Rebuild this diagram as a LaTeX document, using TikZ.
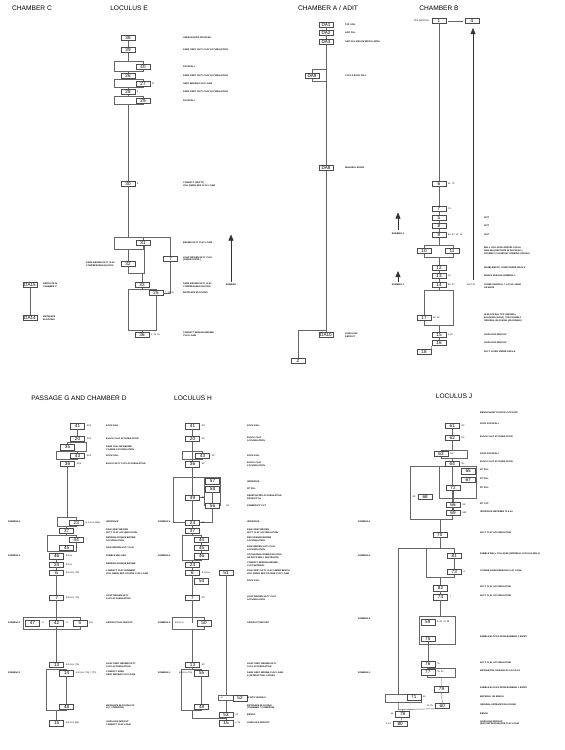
\documentclass[tikz,border=0pt]{standalone}
\usepackage{fontspec}
\setmainfont{Liberation Sans}
\usetikzlibrary{arrows.meta}

\tikzset{
  unit/.style={draw=black!70, fill=white, line width=0.45pt, minimum width=14pt,
    minimum height=5.4pt, inner sep=0pt, font=\fontsize{4.6}{5}\selectfont},
  desc/.style={anchor=west, inner sep=0pt, align=left, font=\bfseries\fontsize{2.2}{2.6}\selectfont},
  note/.style={anchor=west, inner sep=0pt, font=\fontsize{2.2}{2.5}\selectfont},
  head/.style={inner sep=0pt, font=\fontsize{6.6}{7}\selectfont},
  link/.style={draw=black!60, line width=0.45pt},
  robnote/.style={inner sep=0pt, font=\bfseries\fontsize{2.2}{2.5}\selectfont},
  robarrow/.style={-{Triangle[width=5pt,length=6pt]}, line width=0.5pt, black!80}
}

\begin{document}
\begin{tikzpicture}[x=1pt,y=-1pt]
    \useasboundingbox (0,0) rectangle (565,750);

    % Headings
    \node[head] (hC) at (32,8) {CHAMBER C};
    \node[head] (hE) at (129,8) {LOCULUS E};
    \node[head] (hA) at (328,8) {CHAMBER A / ADIT};
    \node[head] (hB) at (439,8) {CHAMBER B};
    \node[head] (hG) at (79,398) {PASSAGE G AND CHAMBER D};
    \node[head] (hH) at (193,398) {LOCULUS H};
    \node[head] (hJ) at (454,396) {LOCULUS J};

    %% ---------------- Loculus E ----------------
    \draw[link] (114,61) rectangle (143,71);
    \draw[link] (114,79) rectangle (143,87);
    \draw[link] (114,96) rectangle (143,104);
    \draw[link] (114,237) rectangle (143,249);
    \draw[link] (143,237) -- (170.7,237);
    \draw[link] (128,249) -- (128,273) -- (144,273) -- (144,245);
    \draw[link] (128.3,289) rectangle (156.7,330);
    \foreach \n/\x/\y in {38/128/38, 39/128/50, 40/143/67, 26/128/76,
        27/143/84, 28/128/92, 29/143/101, 30/128/184, 31/143/243,
        32/128/264, 7/170.7/259, 33/142/285, 25/156/293, 36/142/335}
        \node[unit] (e\n) at (\x,\y) {\n};
    \draw[link] (e38) -- (e39);
    \draw[link] (e39) -- (e39 |- 0,61);
    \draw[link] (e26 |- 0,71) -- (e26) -- (e26 |- 0,79);
    \draw[link] (e28 |- 0,87) -- (e28) -- (e28 |- 0,96);
    \draw[link] (e30 |- 0,104) -- (e30) -- (e30 |- 0,237);
    \draw[link] (e7 |- 0,237) -- (e7) -- (e7 |- e25) -- (e25);
    \draw[link] (e33 |- 0,273) -- (e33) -- (e33 |- 0,289);
    \draw[link] (e36 |- 0,330) -- (e36);
    \node[note] at (152,84) {57};
    \node[note] at (137,92) {5};
    \node[note] at (137,184) {6};
    \node[note] at (165,293) {7, 12, 36};
    \node[note] at (151,335) {2, 15, 16};
    \foreach \y/\t in {38/UNEXCAVATED ROCKFALL, 50/DARK GREY SILTY CLAY ACCUMULATION,
        67/ROCKFALL, 76/DARK GREY SILTY CLAY ACCUMULATION, 84/GREY BROWN CLAY LOAM,
        92/DARK GREY SILTY CLAY ACCUMULATION, 101/ROCKFALL,
        184/{COMPACT (GRITTY)\\YELLOWISH RED CLAY LOAM}, 243/BROWN SILTY CLAY LOAM,
        259/{LIGHT BROWN SILTY CLAY\\(UNDER LINTEL)},
        285/{DARK BROWN SILTY CLAY\\COMPRESSIBLE BLOCKS}, 293/ENTRANCE BLOCKING,
        334/{COMPACT REDDISH BROWN\\CLAY LOAM}}
        \node[desc] at (183,\y) {\t};
    \node[desc, anchor=east, align=left] (l32) at (115,264)
        {DARK BROWN SILTY CLAY\\COMPRESSIBLE BLOCKS};
    \draw[robarrow] (231,282) -- (231,234.5);
    \node[robnote] (robE) at (231,285) {ROBBING};

    %% ---------------- Chamber C ----------------
    \node[unit] (dc15) at (30,285) {DA15};
    \node[unit] (dc14) at (30,318) {DA14};
    \draw[link] (dc15) -- (dc14);
    \node[desc] at (43,285) {DEPOSITS IN\\CHAMBER C};
    \node[desc] at (43,318) {ENTRANCE\\BLOCKING};

    %% ---------------- Chamber A / Adit ----------------
    \draw[link] (312,69) rectangle (326,81);
    \foreach \n/\y in {1/25, 2/33, 3/42, 8/168, 10/335}
        \node[unit] (da\n) at (326,\y) {DA\n};
    \node[unit] (da9) at (312,76) {DA9};
    \node[unit] (a2) at (298,361) {2};
    \draw[link] (da1) -- (da2);
    \draw[link] (da2) -- (da3);
    \draw[link] (da3) -- (da8);
    \draw[link] (da8) -- (da8 |- 0,330) -- (a2 |- 0,330) -- (a2);
    \draw[link] (da8 |- 0,330) -- (da10);
    \foreach \y/\t in {25/TOP SOIL, 33/ADIT FILL, 42/ADIT FILL BELOW BRICK LINTEL,
        76/CLAY \& ROCK FALL, 168/WASHED LAYERS, 335/{LEVELLING\\DEPOSIT}}
        \node[desc] at (345,\y) {\t};

    %% ---------------- Chamber B ----------------
    \draw[link] (424,245) rectangle (453,257);
    \draw[link] (424,290) rectangle (453,325);
    \foreach \n/\x/\y in {1/439/21, 4/472/21, 6/439/184, 7/439/209, 5/439/218,
        8/439/226, 9/439/235, 10/424/251, 11/452/251, 12/439/268, 13/439/276,
        14/439/285, 17/424/318, 15/439/335, 16/439/343, 18/424/352}
        \node[unit] (b\n) at (\x,\y) {\n};
    \draw[link, shorten <=2pt, shorten >=2pt] (b1) -- (b4);
    \draw[link] (b1) -- (b6);
    \draw[link] (b6) -- (b7);
    \draw[link] (b7) -- (b5);
    \draw[link] (b5) -- (b8);
    \draw[link] (b8) -- (b9);
    \draw[link] (b9) -- (b9 |- 0,245);
    \draw[link] (b12 |- 0,257) -- (b12);
    \draw[link] (b12) -- (b13);
    \draw[link] (b13) -- (b14);
    \draw[link] (b14) -- (b14 |- 0,290);
    \draw[link] (b15 |- 0,325) -- (b15);
    \draw[link] (b15) -- (b16);
    \draw[link] (b16.south west) -- (b18.north east);
    \draw[robarrow] (473,280) -- (473,28);
    \node[note] at (467,285) {SS (TS)};
    \node[note, anchor=east] at (429,21) {RF4 (MORTIS)};
    \node[note] at (448,184) {6L, 7S};
    \node[note] at (448,209) {7A};
    \node[note] at (448,235) {8C, 8?, 10, 18};
    \node[note] at (448,276) {7A};
    \node[note] at (448,285) {8C, 9?};
    \node[note] at (433,318) {8C, 20};
    \node[note] at (448,335) {2,16};
    \draw[robarrow] (398,230) -- (398,212.5);
    \node[robnote] (robB2) at (398,234) {ROBBING 2};
    \draw[robarrow] (398,282) -- (398,271);
    \node[robnote] (robB1) at (398,285) {ROBBING 1};
    \foreach \y/\t in {218/SPIT, 226/SPIT, 235/SPIT,
        251/{WALL COLLAPSE AND/OR LOCULI\\SEALING (DEPOSITS IN ROCKFALL)\\POSSIBLY CAUSED BY ROBBING (CROSS)},
        268/PROBLEMATIC LAYER UNDER ARCH 2, 276/MARKS SEALING ROBBING 1,
        286/{SCREE GRAVELS, ? LOCULI HEAD\\ON BASE},
        318/{IN BLOCKING, ?PIT ORIGINAL\\BLOCKING (8A/10), ?OR POSSIBLY\\ORIGINAL BLOCKING (ADJOINING)},
        335/LEVELLING DEPOSIT, 343/LEVELLING DEPOSIT, 352/SILTY LAYER UNDER ARCH 8}
        \node[desc] at (484,\y) {\t};

    %% ---------------- Passage G and Chamber D ----------------
    \draw[link] (67.5,442.3) rectangle (86,451.7);
    \draw[link] (56,451.7) rectangle (77.5,459.5);
    \draw[link] (57.3,517.7) rectangle (76.3,526.7);
    \draw[link] (47.3,535) rectangle (76.3,551);
    \draw[link] (23.3,617.3) rectangle (80.7,629);
    \draw[link] (46.7,669) rectangle (66.7,710.7);
    \foreach \n/\x/\y in {41/77.5/426.2, 20/77.5/439, 35/67.5/447.2, 43/77.5/455.8,
        36/67.5/463.5, 23/76.3/522.5, 37/66.7/531, 44/76.3/539.5, 45/66.7/548,
        46/56.7/556.2, 24/56.7/564.5, 6/56.7/572.5, 7/56.7/597.5, 47/32.5/623.2,
        42/56.7/623.2, 5/80/623.2, 13/56.7/665, 14/66.7/673.2, 48/66.7/706.5,
        15/56.7/723.2}
        \node[unit] (g\n) at (\x,\y) {\n};
    \draw[link] (g41) -- (g20);
    \draw[link] (g20) -- (g20 |- 0,442.3);
    \draw[link] (g36) -- (g36 |- 0,517.7);
    \draw[link] (g37 |- 0,526.7) -- (g37) -- (g37 |- 0,535);
    \draw[link] (g46) -- (g24);
    \draw[link] (g24) -- (g6);
    \draw[link] (g6) -- (g7);
    \draw[link] (g7) -- (g42);
    \draw[link] (g42) -- (g13);
    \draw[link] (g14) -- (g48);
    \draw[link] (g15 |- 0,710.7) -- (g15);
    \foreach \n/\t in {41/RF3, 20/RF4, 43/RF4, 36/RF4, 23/{B,D,G,H (RF3)}, 44/7, 45/8,
        46/{B,G,H}, 24/{B,D,H}, 6/{B,D,G,H (TS)}, 7/{B,D,G,H (TS)}, 47/H, 42/H, 5/{B,D},
        13/{B,D,G,H (TS)}, 14/{B,D,G,H (TS), 7 (T2)}, 15/{B,D,G,H (B2)}}
        \node[note] at ([xshift=2pt]g\n.east) {\t};
    \foreach \y/\t in {426/ROCK FALL, 439/BLACK CLAY ACCUMULATION,
        448/{DARK YELLOW BROWN\\COARSE ACCUMULATION}, 456/ROCK FALL,
        464/BLACK SILTY CLAY ACCUMULATION, 522/INTERFACE,
        531/{PALE GREY BROWN\\SILTY CLAY ACCUMULATION},
        539.5/{REDDISH ORANGE BROWN\\ACCUMULATION}, 548/PALE BROWN SILTY CLAY,
        556/RUBBLE WALLING, 564/REDDISH ORANGE BROWN,
        572/{COMPACT CLAY SEDIMENT\\YELLOWISH RED COARSE CLAY LOAM},
        597/{LIGHT BROWN SILTY\\CLAY ACCUMULATION}, 623/ARTEFACTUAL DEPOSIT,
        665/{LIGHT GREY BROWN SILTY\\CLAY ACCUMULATION},
        673/{COMPACT DARK\\GREY BROWN CLAY LOAM},
        707/{ENTRANCE BLOCKING OF\\H (? CORRIDOR)},
        723/{LEVELLING DEPOSIT\\COMPACT CLAY LOAM}}
        \node[desc] at (106,\y) {\t};
    \foreach \y/\r in {522/4, 556/3, 623/2, 673/1}
        \node[robnote, anchor=west] at (8,\y) {ROBBING \r};

    %% ---------------- Loculus H ----------------
    \draw[link] (182.7,451) rectangle (202.5,459);
    \draw[link] (185,522.5) -- (173.3,522.5) -- (173.3,477.7) -- (220,477.7) -- (220,505.8);
    \draw[link] (204,477.7) -- (204,505.8);
    \draw[link] (182,535) rectangle (201.7,560);
    \draw[link] (172.7,617.3) rectangle (204,629);
    \draw[link] (181.7,669) rectangle (201.7,710.7);
    \draw[link] (218.7,695.7) rectangle (240,700.7);
    \foreach \n/\x/\y in {41/192.5/426.2, 20/192.5/439, 43/202.5/455.8, 36/192.5/464.2,
        57/212.5/481.2, 58/212.5/489.2, 49/192.5/497.5, 56/212.5/505.8, 23/192.5/522.5,
        37/192.5/531, 44/201.7/539.5, 45/201.7/548, 46/201.7/556.2, 24/192.5/564.5,
        6/192.5/572.5, 51/226/572.5, 54/201.7/581.2, 7/192.5/597.5, 50/204/623.2,
        13/192.5/665, 55/201.7/673.2, 52/240/698.2, 48/201.7/706.5, 53/226/715,
        15/226/723.2}
        \node[unit] (h\n) at (\x,\y) {\n};
    \draw[link] (h41) -- (h20);
    \draw[link] (h20) -- (h36);
    \draw[link] (h36) -- (h49);
    \draw[link] (h49) -- (h23);
    \draw[link] (h49) -- (h49 -| 204,0);
    \draw[link] (h58) -- (h56);
    \draw[link] (h56) -- (h56 |- h23) -- (h23);
    \draw[link] (h23) -- (h37);
    \draw[link] (h37) -- (h37 |- 0,535);
    \draw[link] (h24 |- 0,560) -- (h24) -- (h6);
    \draw[link] (h6) -- (h7);
    \draw[link] (h51) -- (h51 |- 0,695.7);
    \draw[link] (h51 |- 0,700.7) -- (h53);
    \draw[link] (h7) -- (h50 -| h7);
    \draw[link] (h13 |- 0,629) -- (h13) -- (h13 |- 0,669);
    \draw[link] (h55) -- (h48);
    \draw[link] (h13 |- 0,710.7) -- (h13 |- 0,718) -- (h53 |- 0,718);
    \draw[link] (h53) -- (h15);
    \foreach \n/\t in {41/RF, 20/RF, 43/RF, 36/RF, 49/RF, 23/RF, 6/{B,D,G,H}, 7/RF,
        13/RF, 53/7A, 15/{2, 16}}
        \node[note] at ([xshift=2pt]h\n.east) {\t};
    \node[note] at (226,506) {RF};
    \node[note] at (175,623.2) {B,D,G,H};
    \node[note, anchor=east] at ([xshift=-2pt]h55.west) {B,D,G,H (TS)};
    \node[note] at (221,698.2) {H};
    \foreach \y/\t in {426/ROCK FALL, 439/{BLACK CLAY\\ACCUMULATION}, 456/ROCK FALL,
        464/{BLACK CLAY\\ACCUMULATION}, 482/INTERFACE, 489/PIT FILL,
        497/{REDEPOSITED ACCUMULATION\\FROM PIT 56}, 506/ROBBER PIT CUT,
        522/INTERFACE, 531/{PALE GREY BROWN\\SILTY CLAY ACCUMULATION},
        539/{RED ORANGE BROWN\\ACCUMULATION}, 548/{PALE BROWN SILTY CLAY\\ACCUMULATION},
        556/{OCCASIONAL RUBBLE BLOCKS\\ON ROCK WALL DESTROYED},
        564/{COMPACT REDDISH BROWN\\CLAY MATERIAL},
        572/{PALE GREY SILTY CLAY UNDER BENCH\\YELLOWISH RED COARSE CLAY LOAM},
        581/ROCK FALL, 598/{LIGHT BROWN SILTY CLAY\\ACCUMULATION},
        623/ARTEFACT DEPOSIT, 665/{LIGHT GREY BROWN SILTY\\CLAY ACCUMULATION},
        674/{DARK GREY BROWN CLAY LOAM\\\& ARTEFACTUAL LAYERS}, 698/IN SITU VESSELS,
        707/{ENTRANCE BLOCKING\\(CHAMBER ? CORRIDOR)}, 715/BENCH, 723/LEVELLING DEPOSIT}
        \node[desc] at (247,\y) {\t};
    \foreach \y/\r in {522/4, 556/3, 623/2, 673/1}
        \node[robnote, anchor=west] at (158,\y) {ROBBING \r};
    \foreach \y/\r in {522/4, 556/3, 619/2, 673/1}
        \node[robnote, anchor=west] at (358,\y) {ROBBING \r};

    %% ---------------- Loculus J ----------------
    \draw[link] (441,450) rectangle (467.7,458);
    \draw[link] (410.3,466.7) rectangle (452.7,519.3);
    \draw[link] (439.3,466.7) rectangle (476.7,498);
    \draw[link] (426,548.7) rectangle (454.3,577.3);
    \draw[link] (419.3,616.3) rectangle (455.3,644.7);
    \draw[link] (427.7,668) rectangle (455.3,677.3);
    \draw[link] (385.3,694) rectangle (421,702.3);
    \draw[link] (426,548.7) -- (398.3,548.7) -- (398.3,694);
    \foreach \n/\x/\y in {61/452.3/425.5, 62/452.3/437.8, 63/441/454, 64/452.3/463.5,
        65/468.2/471.2, 67/468.2/479.5, 72/453/488, 68/425.2/496.8, 66/453/504.5,
        69/453/512.5, 70/439.8/534.5, 81/454.3/555.8, 73/454.3/571.5, 82/440.5/588.2,
        74/440.5/597.2, 59/427.8/622.2, 75/427.8/639, 76/427.8/664.2, 77/427.8/672.2,
        79/441.5/689.2, 71/413.8/697.2, 60/442.3/705.8, 78/402.7/714.2, 80/400.2/723.5}
        \node[unit] (j\n) at (\x,\y) {\n};
    \draw[link] (j61) -- (j62);
    \draw[link] (j62) -- (j62 |- 0,450);
    \draw[link] (j64 |- 0,458) -- (j64);
    \draw[link] (j72) -- (j66);
    \draw[link] (j66) -- (j69);
    \draw[link] (j70 |- 0,519.3) -- (j70) -- (j70 |- 0,548.7);
    \draw[link] (j82 |- 0,577.3) -- (j82) -- (j74);
    \draw[link] (j74) -- (j74 |- 0,616.3);
    \draw[link] (j75) -- (j76);
    \draw[link] (j76) -- (j77);
    \draw[link] (j79 |- 0,677.3) -- (j79) -- (j60);
    \draw[link] (398.3,702.3) -- (398.3,709.7) -- (j60.south west);
    \draw[link] (j78 |- 0,709.7) -- (j78) -- (j80);
    \foreach \n/\t in {61/RF, 62/RF, 63/RF, 64/RF, 66/SE, 69/SEF, 73/8, 74/7,
        59/{8, 42, 47, 58}, 76/7A, 77/{7A, 20}, 71/50}
        \node[note] at ([xshift=2pt]j\n.east) {\t};
    \foreach \n/\t in {68/RF, 60/{11, 25}, 78/53, 80/{2, 15}}
        \node[note, anchor=east] at ([xshift=-2pt]j\n.west) {\t};
    \foreach \y/\t in {413/BENCH MADE TO ROCK-CUT ROOF, 424/ROOF ROCKFALL,
        437/BLACK CLAY ACCUMULATION, 454/ROOF ROCKFALL, 462/BLACK CLAY ACCUMULATION,
        470/PIT FILL, 479/PIT FILL, 488/PIT FILL, 504/PIT CUT,
        512/INTERFACE BETWEEN 70 \& 64, 533/SILTY CLAY ACCUMULATION,
        554/RUBBLE WALL COLLAPSE (INTERNAL LOCULUS WALL),
        571/COARSE HOMOGENEOUS CLAY LOAM, 587/SILTY CLAY ACCUMULATION,
        596/SILTY CLAY ACCUMULATION, 637/RUBBLE BLOCKS FROM ROBBING 2 ENTRY,
        663/SILTY CLAY ACCUMULATION, 671/METALWORK ON BASE OF LOCULUS,
        688/RUBBLE BLOCKS FROM ROBBING 1 ENTRY, 697/MATERIAL ON BENCH,
        705/ORIGINAL ENTRANCE BLOCKING, 714/BENCH,
        723/{LEVELLING DEPOSIT\\(DISCONTINUOUS) RED CLAY LOAM}}
        \node[desc] at (480,\y) {\t};

\end{tikzpicture}
\end{document}
